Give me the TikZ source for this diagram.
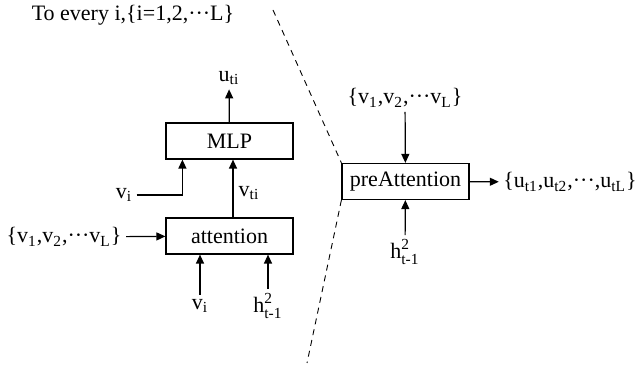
\documentclass[tikz,border=0pt]{standalone}
\usepackage{amsmath}
\usepackage{fontspec}
\setmainfont{Liberation Serif}
\usetikzlibrary{arrows.meta}
\newcommand{\tx}[1]{\text{#1}}
\newcommand{\dts}{\text{\textperiodcentered\textperiodcentered\textperiodcentered}}
\begin{document}
\begin{tikzpicture}[x=0.5pt,y=-0.5pt,line width=0.6pt,
  every node/.style={font=\fontsize{11}{13}\selectfont,inner sep=2pt},
  blk/.style={draw,minimum width=63.5pt,minimum height=18pt,inner sep=0pt},
  arr/.style={-{Triangle[length=4.5pt,width=4pt]}},
  sep/.style={dashed,line width=0.45pt,dash pattern=on 3pt off 2.5pt}]
\useasboundingbox (0,0) rectangle (643,368);
% title
\node (title) at (133,15) {To every i,\{i=1,2,$\dts$L\}};
% left part: one step
\node[blk] (mlp) at (229.5,141) {MLP};
\node[blk] (att) at (229.5,236) {attention};
\node (uti) at (229,78) {$\tx{u}_{\tx{ti}}$};
\node (vi1) at (124,195) {$\tx{v}_{\tx{i}}$};
\node (vti) at (249,193) {$\tx{v}_{\tx{ti}}$};
\node (vset1) at (64,237) {\{$\tx{v}_{\tx{1}}$,$\tx{v}_{\tx{2}}$,$\dts\tx{v}_{\tx{L}}$\}};
\node (vi2) at (200,306) {$\tx{v}_{\tx{i}}$};
\node (h1) at (268,306) {$\tx{h}^{\tx{2}}_{\tx{t-1}}$};
\draw[arr] (mlp) -- (uti);
\draw[arr] (vi1.east) -| ([xshift=8.5pt]mlp.south west);
\draw[arr] ([xshift=1.75pt]att.north) -- ([xshift=1.75pt]mlp.south);
\draw[arr] (vset1) -- (att);
\draw[arr] (vi2) -- (vi2 |- att.south);
\draw[arr] (h1) -- (h1 |- att.south);
% right part
\node[blk] (pre) at (405.5,181.5) {preAttention};
\node (vset2) at (405,98) {\{$\tx{v}_{\tx{1}}$,$\tx{v}_{\tx{2}}$,$\dts\tx{v}_{\tx{L}}$\}};
\node (h2) at (405,252) {$\tx{h}^{\tx{2}}_{\tx{t-1}}$};
\node (uset) at (570,182) {\{$\tx{u}_{\tx{t1}}$,$\tx{u}_{\tx{t2}}$,$\dts$,$\tx{u}_{\tx{tL}}$\}};
\draw[arr] (vset2) -- (pre);
\draw[arr] (h2) -- (pre);
\draw[arr] (pre) -- (uset);
% dashed separator
\coordinate (top) at (273,10);
\coordinate (bot) at (307,363);
\draw[sep] (top) -- (pre.north west);
\draw[sep] (pre.south west) -- (bot);
\end{tikzpicture}
\end{document}
